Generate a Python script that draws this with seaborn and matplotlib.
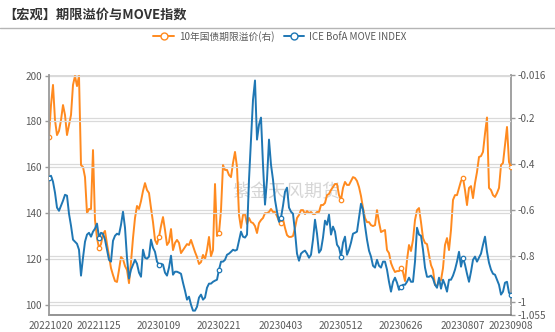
import numpy as np
import pandas as pd
import matplotlib
matplotlib.use("Agg")
import matplotlib.pyplot as plt
from matplotlib.lines import Line2D
import seaborn as sns

sns.set_theme(style="white")
plt.rcParams["font.family"] = ["Noto Sans CJK SC", "DejaVu Sans"]
plt.rcParams["axes.unicode_minus"] = False

# ---------------- data ----------------
tick_labels = ["20221020", "20221125", "20230109", "20230221", "20230403",
               "20230512", "20230626", "20230807", "20230908"]
label_idx = [1, 25, 55, 85, 116, 146, 176, 207, 231]
marker_idx = [0, 25, 55, 85, 116, 146, 176, 207, 231]
boundary_idx = [13, 43, 73.5, 104, 134, 164, 195, 218.5]

move_index = [
    155.5, 156.3, 153.7, 148.9, 142.4, 141.0, 143.2, 145.4, 148.0, 147.6,
    139.7, 134.5, 128.4, 127.5, 126.6, 124.0, 112.7, 120.5, 127.5, 130.6,
    131.4, 129.7, 131.9, 133.2, 135.4, 129.3, 131.4, 131.0, 128.4, 124.0,
    119.6, 118.8, 127.9, 130.1, 131.0, 130.6, 134.9, 140.6, 133.6, 120.5,
    111.4, 115.3, 117.5, 119.6, 117.9, 114.0, 112.2, 124.0, 120.5, 120.1,
    121.0, 128.4, 124.9, 123.1, 118.8, 117.5, 117.9, 117.5, 114.0, 112.7,
    116.2, 121.4, 113.1, 114.4, 114.4, 114.0, 113.5, 109.6, 106.1, 102.2,
    103.5, 100.0, 97.4, 97.4, 99.1, 103.1, 104.4, 102.2, 103.1, 107.4,
    109.2, 109.2, 110.0, 110.5, 110.9, 115.3, 118.8, 118.8, 119.6, 121.8,
    122.3, 123.1, 124.0, 123.6, 124.0, 127.9, 131.9, 129.7, 129.3, 130.6,
    154.6, 172.1, 189.5, 197.9, 172.1, 178.6, 181.7, 161.1, 143.7, 154.6,
    172.1, 161.1, 154.6, 145.8, 140.6, 136.2, 138.0, 143.2, 149.3, 151.1,
    142.4, 140.6, 139.7, 131.9, 122.3, 119.2, 122.3, 123.1, 123.6, 122.3,
    120.5, 121.8, 128.4, 137.1, 131.0, 122.7, 124.0, 129.3, 136.7, 134.9,
    139.3, 130.6, 134.1, 131.9, 126.2, 124.9, 121.0, 127.1, 129.7, 121.8,
    124.0, 127.1, 131.0, 131.4, 131.9, 138.0, 144.1, 141.5, 134.5, 128.4,
    123.6, 121.0, 117.0, 116.2, 119.6, 117.0, 116.2, 118.8, 118.8, 115.3,
    110.0, 105.7, 110.0, 111.8, 109.6, 106.5, 107.9, 108.7, 108.7, 110.0,
    111.8, 110.0, 110.0, 118.8, 133.6, 130.6, 130.1, 124.0, 116.2, 112.2,
    112.2, 112.7, 111.4, 108.7, 107.4, 111.8, 107.0, 110.9, 108.7, 105.7,
    110.9, 110.9, 112.7, 115.3, 118.8, 123.1, 116.6, 120.5, 117.5, 113.5,
    110.0, 114.4, 119.6, 121.0, 118.8, 120.5, 122.3, 126.2, 129.7, 123.1,
    118.3, 115.3, 113.5, 113.1, 110.9, 108.7, 104.4, 105.7, 109.6, 110.0,
    105.2, 104.4,
]

term_premium = [
    -0.284, -0.146, -0.059, -0.211, -0.276, -0.258, -0.211, -0.146, -0.189, -0.276,
    -0.232, -0.189, -0.059, -0.020, -0.064, -0.020, -0.406, -0.414, -0.458, -0.614,
    -0.596, -0.596, -0.341, -0.644, -0.722, -0.765, -0.748, -0.704, -0.691, -0.748,
    -0.800, -0.852, -0.882, -0.908, -0.912, -0.860, -0.804, -0.813, -0.843, -0.860,
    -0.917, -0.826, -0.722, -0.635, -0.583, -0.596, -0.562, -0.518, -0.484, -0.514,
    -0.527, -0.592, -0.653, -0.730, -0.748, -0.717, -0.670, -0.631, -0.687, -0.752,
    -0.739, -0.683, -0.774, -0.743, -0.730, -0.743, -0.787, -0.774, -0.761, -0.748,
    -0.752, -0.730, -0.756, -0.782, -0.804, -0.834, -0.826, -0.795, -0.813, -0.774,
    -0.717, -0.800, -0.774, -0.488, -0.713, -0.700, -0.601, -0.406, -0.427, -0.427,
    -0.449, -0.458, -0.397, -0.349, -0.414, -0.622, -0.678, -0.622, -0.618, -0.661,
    -0.635, -0.653, -0.657, -0.670, -0.700, -0.657, -0.644, -0.635, -0.614, -0.614,
    -0.609, -0.596, -0.609, -0.609, -0.627, -0.648, -0.657, -0.640, -0.678, -0.709,
    -0.717, -0.717, -0.713, -0.678, -0.635, -0.622, -0.601, -0.601, -0.618, -0.605,
    -0.614, -0.609, -0.618, -0.618, -0.609, -0.609, -0.579, -0.579, -0.570, -0.536,
    -0.531, -0.514, -0.501, -0.488, -0.488, -0.536, -0.557, -0.505, -0.479, -0.492,
    -0.492, -0.475, -0.458, -0.462, -0.475, -0.501, -0.540, -0.592, -0.635, -0.653,
    -0.653, -0.666, -0.670, -0.666, -0.601, -0.653, -0.696, -0.691, -0.687, -0.774,
    -0.787, -0.830, -0.852, -0.869, -0.865, -0.865, -0.852, -0.869, -0.908, -0.817,
    -0.752, -0.778, -0.730, -0.644, -0.601, -0.592, -0.653, -0.722, -0.743, -0.748,
    -0.795, -0.839, -0.860, -0.925, -0.930, -0.908, -0.904, -0.852, -0.752, -0.722,
    -0.774, -0.687, -0.557, -0.536, -0.536, -0.505, -0.475, -0.462, -0.514, -0.579,
    -0.505, -0.497, -0.549, -0.484, -0.436, -0.371, -0.367, -0.349, -0.270, -0.200,
    -0.505, -0.514, -0.536, -0.544, -0.527, -0.505, -0.406, -0.397, -0.319, -0.241,
    -0.393, -0.414,
]

left_ticks = [100, 120, 140, 160, 180, 200]
right_ticks = [-0.016, -0.2, -0.4, -0.6, -0.8, -1.0, -1.055]
right_tick_labels = ["-0.016", "-0.2", "-0.4", "-0.6", "-0.8", "-1", "-1.055"]

series_names = ["10年国债期限溢价(右)", "ICE BofA MOVE INDEX"]
title = "【宏观】期限溢价与MOVE指数"
watermark = "紫金天风期货"

# ---------------- style ----------------
ORANGE = "#ff8a1f"
BLUE = "#1f77b4"
AXIS_C = "#9a9a9a"
GRID_C = "#dadada"
TXT_C = "#5a5a5a"

W, H = 555, 332
fig = plt.figure(figsize=(W / 100, H / 100), dpi=100)
ax = fig.add_axes([49 / W, 17 / H, 462 / W, 240 / H])
ax2 = ax.twinx()

df = pd.DataFrame({
    "idx": np.arange(len(term_premium)),
    "tp": term_premium,
    "move": move_index,
})

sns.lineplot(data=df, x="idx", y="tp", ax=ax, color=ORANGE, linewidth=1.4,
             marker="o", markevery=marker_idx, markersize=3.2,
             markerfacecolor="white", markeredgecolor=ORANGE,
             markeredgewidth=0.9, zorder=3)
sns.lineplot(data=df, x="idx", y="move", ax=ax2, color=BLUE, linewidth=1.4,
             marker="o", markevery=marker_idx, markersize=3.2,
             markerfacecolor="white", markeredgecolor=BLUE,
             markeredgewidth=0.9, zorder=3)

ax.set_xlim(0, len(term_premium) - 1)
ax.set_ylim(-1.055, -0.016)
ax2.set_ylim(95.5, 200.3)

# right axis (term premium)
ax.yaxis.tick_right()
ax.set_yticks(right_ticks)
ax.set_yticklabels(right_tick_labels)
# left axis (MOVE)
ax2.yaxis.tick_left()
ax2.set_yticks(left_ticks)
ax2.set_yticklabels([str(t) for t in left_ticks])

ax.set_xlabel("")
ax.set_ylabel("")
ax2.set_xlabel("")
ax2.set_ylabel("")

# x ticks: boundary marks + labels at categories
ax.set_xticks(boundary_idx)
ax.set_xticklabels([""] * len(boundary_idx))
ax.set_xticks(label_idx, minor=True)
ax.set_xticklabels(tick_labels, minor=True)
ax.tick_params(axis="x", which="major", length=3.5, width=1, color="#777777",
               direction="out")
ax.tick_params(axis="x", which="minor", length=0, labelsize=7.2,
               labelcolor=TXT_C, pad=4.5)
ax.tick_params(axis="y", which="both", length=3, width=1, color=AXIS_C,
               direction="out", labelsize=7.2, labelcolor=TXT_C, pad=2)
ax2.tick_params(axis="y", which="both", length=3, width=1, color=AXIS_C,
                direction="out", labelsize=7.2, labelcolor=TXT_C, pad=2)

# grids
ax.grid(axis="y", color=GRID_C, linewidth=0.9)
ax.grid(axis="x", visible=False)
ax2.grid(axis="y", color=GRID_C, linewidth=0.9)
ax2.grid(axis="x", visible=False)
ax.set_axisbelow(True)
ax2.set_axisbelow(True)
ax2.patch.set_visible(False)

for s in ["top", "left"]:
    ax.spines[s].set_visible(False)
ax.spines["right"].set_color(AXIS_C)
ax.spines["right"].set_linewidth(1.3)
ax.spines["bottom"].set_color("#777777")
ax.spines["bottom"].set_linewidth(1.1)
for s in ["top", "right", "bottom"]:
    ax2.spines[s].set_visible(False)
ax2.spines["left"].set_color(AXIS_C)
ax2.spines["left"].set_linewidth(1.3)

# watermark
ax.text(286 / W, 1 - 192 / H, watermark, transform=fig.transFigure,
        fontsize=13, color="#c8c8c8", alpha=0.75, ha="center", va="center",
        zorder=0)

# title and separator line
fig.text(3 / W, 1 - 15 / H, title, fontsize=9.5, fontweight="bold",
         color="#333333", ha="left", va="center")
fig.add_artist(Line2D([0, 1], [1 - 27.6 / H] * 2, transform=fig.transFigure,
                      color="#b5b5b5", linewidth=1))

# legend
handles = [
    Line2D([], [], color=ORANGE, lw=1.4, marker="o", markersize=5,
           markerfacecolor="white", markeredgecolor=ORANGE, markeredgewidth=1),
    Line2D([], [], color=BLUE, lw=1.4, marker="o", markersize=5,
           markerfacecolor="white", markeredgecolor=BLUE, markeredgewidth=1),
]
leg = fig.legend(handles, series_names, loc="center",
                 bbox_to_anchor=(280 / W, 1 - 36.4 / H), ncol=2, frameon=False,
                 fontsize=7.0, handlelength=2.1, handletextpad=0.5,
                 columnspacing=1.0, borderaxespad=0)
for t in leg.get_texts():
    t.set_color(TXT_C)

fig.savefig("out.png", dpi=100)
